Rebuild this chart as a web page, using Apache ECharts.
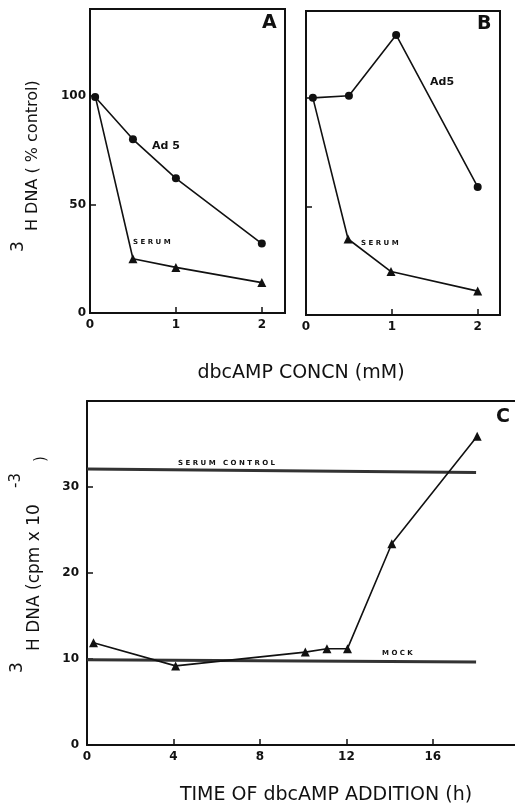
<!DOCTYPE html>
<html>
<head>
<meta charset="utf-8">
<script src="https://cdn.jsdelivr.net/npm/echarts@6/dist/echarts.min.js"></script>
<style>
html,body{margin:0;padding:0;background:#fff;}
#chart{width:515px;height:808px;}
</style>
</head>
<body>
<div id="chart"></div>
<script>
// Panel A
const concA_ad5 = [0.06, 0.5, 1.0, 2.0];
const ad5A = [99.5, 80, 62, 32];
const concA_serum = [0.06, 0.5, 1.0, 2.0];
const serumA = [100, 25, 21, 14];
// Panel B
const concB_ad5 = [0.08, 0.5, 1.05, 2.0];
const ad5B = [100, 101, 129, 59];
const concB_serum = [0.08, 0.49, 0.99, 2.0];
const serumB = [100, 35, 20, 11];
// Panel C
const timeC = [0.3, 4.1, 10.1, 11.1, 12.05, 14.1, 18.05];
const dnaC = [11.9, 9.2, 10.8, 11.2, 11.2, 23.4, 35.9];
const serumControlX = [0, 18];
const serumControlY = [32.1, 31.7];
const mockX = [0, 18];
const mockY = [9.9, 9.65];
// tick labels
const ticksAB_x = [0, 1, 2];
const ticksA_y = [0, 50, 100];
const ticksC_x = [0, 4, 8, 12, 16];
const ticksC_y = [0, 10, 20, 30];

const zip = (xs, ys, skipFirstSymbol) => xs.map((x, i) => {
  if (skipFirstSymbol && i === 0) return { value: [x, ys[i]], symbol: 'none' };
  return [x, ys[i]];
});

const FONT = 'DejaVu Sans';
const black = '#111';

const axisLineStyle = { show: true, lineStyle: { color: black, width: 2 } };
const tickStyle = (vals) => ({ show: true, inside: true, length: 6, customValues: vals, lineStyle: { color: black, width: 1.5 } });
const labelStyle = (vals, margin) => ({ color: black, fontFamily: FONT, fontWeight: 'bold', fontSize: 12, margin: margin, customValues: vals });

const option = {
  backgroundColor: '#fff',
  animation: false,
  grid: [
    { left: 90, top: 9, right: 230, bottom: 495, show: true, borderColor: black, borderWidth: 2, backgroundColor: 'transparent' },
    { left: 306, top: 11, right: 15, bottom: 493, show: true, borderColor: black, borderWidth: 2, backgroundColor: 'transparent' },
    { left: 87, top: 401, right: 0, bottom: 63, show: false }
  ],
  xAxis: [
    { gridIndex: 0, type: 'value', min: 0, max: 2.27, axisLine: axisLineStyle, axisTick: tickStyle(ticksAB_x), splitLine: { show: false },
      axisLabel: labelStyle(ticksAB_x, 6) },
    { gridIndex: 1, type: 'value', min: 0, max: 2.26, axisLine: axisLineStyle, axisTick: tickStyle(ticksAB_x), splitLine: { show: false },
      axisLabel: labelStyle(ticksAB_x, 6) },
    { gridIndex: 2, type: 'value', min: 0, max: 19.8, axisLine: axisLineStyle, axisTick: tickStyle(ticksC_x), splitLine: { show: false },
      axisLabel: labelStyle(ticksC_x, 6) },
    { gridIndex: 2, type: 'value', position: 'top', min: 0, max: 19.8, axisLine: axisLineStyle, axisTick: { show: false }, splitLine: { show: false },
      axisLabel: { show: false } }
  ],
  yAxis: [
    { gridIndex: 0, type: 'value', min: 0, max: 140, axisLine: axisLineStyle, axisTick: tickStyle(ticksA_y), splitLine: { show: false },
      axisLabel: labelStyle(ticksA_y, 4) },
    { gridIndex: 1, type: 'value', min: 0, max: 140, axisLine: axisLineStyle, axisTick: tickStyle(ticksA_y), splitLine: { show: false },
      axisLabel: { show: false } },
    { gridIndex: 2, type: 'value', min: 0, max: 40, axisLine: axisLineStyle, axisTick: tickStyle(ticksC_y), splitLine: { show: false },
      axisLabel: labelStyle(ticksC_y, 8) }
  ],
  series: [
    { name: 'SERUM A', type: 'line', xAxisIndex: 0, yAxisIndex: 0, data: zip(concA_serum, serumA, true),
      symbol: 'triangle', symbolSize: 9, itemStyle: { color: black }, lineStyle: { color: black, width: 1.6 }, z: 2 },
    { name: 'Ad 5 A', type: 'line', xAxisIndex: 0, yAxisIndex: 0, data: zip(concA_ad5, ad5A),
      symbol: 'circle', symbolSize: 8, itemStyle: { color: black }, lineStyle: { color: black, width: 1.6 }, z: 3 },
    { name: 'SERUM B', type: 'line', xAxisIndex: 1, yAxisIndex: 1, data: zip(concB_serum, serumB, true),
      symbol: 'triangle', symbolSize: 9, itemStyle: { color: black }, lineStyle: { color: black, width: 1.6 }, z: 2 },
    { name: 'Ad 5 B', type: 'line', xAxisIndex: 1, yAxisIndex: 1, data: zip(concB_ad5, ad5B),
      symbol: 'circle', symbolSize: 8, itemStyle: { color: black }, lineStyle: { color: black, width: 1.6 }, z: 3 },
    { name: 'SERUM CONTROL', type: 'line', xAxisIndex: 2, yAxisIndex: 2, data: zip(serumControlX, serumControlY),
      symbol: 'none', lineStyle: { color: '#333', width: 3 }, z: 2 },
    { name: 'MOCK', type: 'line', xAxisIndex: 2, yAxisIndex: 2, data: zip(mockX, mockY),
      symbol: 'none', lineStyle: { color: '#333', width: 3 }, z: 2 },
    { name: 'C', type: 'line', xAxisIndex: 2, yAxisIndex: 2, data: zip(timeC, dnaC),
      symbol: 'triangle', symbolSize: 9, itemStyle: { color: black }, lineStyle: { color: black, width: 1.6 }, z: 3 }
  ],
  graphic: [
    // panel letters
    { type: 'text', left: 262, top: 14, style: { text: 'A', font: 'bold 19px DejaVu Sans', fill: black } },
    { type: 'text', left: 477, top: 15, style: { text: 'B', font: 'bold 19px DejaVu Sans', fill: black } },
    { type: 'text', left: 496, top: 408, style: { text: 'C', font: 'bold 19px DejaVu Sans', fill: black } },
    // series labels
    { type: 'text', x: 152, y: 146, style: { text: 'Ad 5', font: 'bold 11px DejaVu Sans', fill: black, textVerticalAlign: 'middle' } },
    { type: 'text', x: 133, y: 242, style: { text: 'S E R U M', font: 'bold 7px DejaVu Sans', fill: black, textVerticalAlign: 'middle' } },
    { type: 'text', x: 430, y: 82, style: { text: 'Ad5', font: 'bold 11px DejaVu Sans', fill: black, textVerticalAlign: 'middle' } },
    { type: 'text', x: 361, y: 243, style: { text: 'S E R U M', font: 'bold 7px DejaVu Sans', fill: black, textVerticalAlign: 'middle' } },
    { type: 'text', x: 178, y: 463, style: { text: 'S E R U M   C O N T R O L', font: 'bold 7px DejaVu Sans', fill: black, textVerticalAlign: 'middle' } },
    { type: 'text', x: 382, y: 653, style: { text: 'M O C K', font: 'bold 7px DejaVu Sans', fill: black, textVerticalAlign: 'middle' } },
    // x titles
    { type: 'text', x: 301, y: 373, style: { text: 'dbcAMP CONCN (mM)', font: '19px DejaVu Sans', fill: black, textAlign: 'center', textVerticalAlign: 'middle' } },
    { type: 'text', x: 326, y: 795, style: { text: 'TIME OF dbcAMP ADDITION (h)', font: '19px DejaVu Sans', fill: black, textAlign: 'center', textVerticalAlign: 'middle' } },
    // y title A
    { type: 'text', x: 33, y: 231, rotation: Math.PI / 2, style: { text: 'H DNA ( % control)', font: '16px DejaVu Sans', fill: black, textAlign: 'left', textVerticalAlign: 'middle' } },
    { type: 'text', x: 19, y: 252, rotation: Math.PI / 2, style: { text: '3', font: '17px DejaVu Sans', fill: black, textAlign: 'left', textVerticalAlign: 'middle' } },
    // y title C
    { type: 'text', x: 35, y: 651, rotation: Math.PI / 2, style: { text: 'H DNA (cpm x 10', font: '17px DejaVu Sans', fill: black, textAlign: 'left', textVerticalAlign: 'middle' } },
    { type: 'text', x: 18, y: 673, rotation: Math.PI / 2, style: { text: '3', font: '17px DejaVu Sans', fill: black, textAlign: 'left', textVerticalAlign: 'middle' } },
    { type: 'text', x: 16, y: 488, rotation: Math.PI / 2, style: { text: '-3', font: '15px DejaVu Sans', fill: black, textAlign: 'left', textVerticalAlign: 'middle' } },
    { type: 'text', x: 41, y: 462, rotation: Math.PI / 2, style: { text: ')', font: '15px DejaVu Sans', fill: black, textAlign: 'left', textVerticalAlign: 'middle' } }
  ]
};

const chart = echarts.init(document.getElementById('chart'), null, { renderer: 'canvas' });
chart.setOption(option);
</script>
</body>
</html>
